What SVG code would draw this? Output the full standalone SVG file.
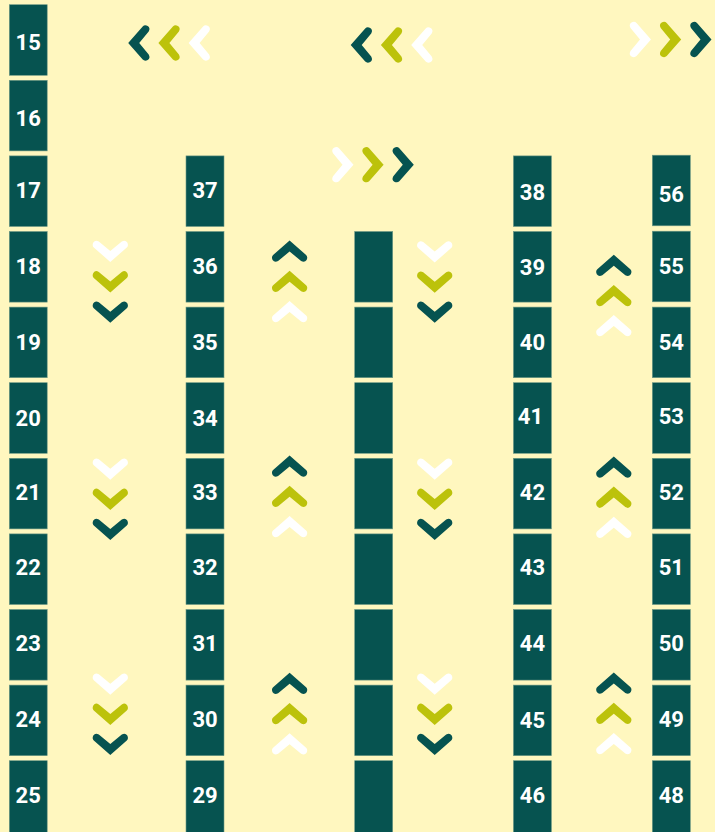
<svg xmlns="http://www.w3.org/2000/svg" xmlns:xlink="http://www.w3.org/1999/xlink" width="715" height="832" viewBox="0 0 715 832">
<style>
.bay{fill:#065350;stroke:#6f9a86;stroke-width:0.6}
.lbl{fill:#ffffff;font-family:Roboto,"Liberation Sans",sans-serif;font-weight:700;font-size:22px;text-anchor:middle}
.dk{fill:#065350}
.lm{fill:#bcc20b}
.wh{fill:#ffffff}
</style>
<defs>
<path id="chev" d="M0,11 L-16.5,-3.5 Q-18.5,-5.5 -17,-8.5 Q-15,-11.5 -11.5,-9.5 L0,0 L11.5,-9.5 Q15,-11.5 17,-8.5 Q18.5,-5.5 16.5,-3.5 Z"/>
</defs>
<rect x="0" y="0" width="715" height="832" fill="#fff7bf"/>
<g id="col1">
<g id="bay-15"><rect class="bay" x="9.3" y="4.7" width="37.9" height="70.6"/><text class="lbl" x="28.2" y="50">15</text></g>
<g id="bay-16"><rect class="bay" x="9.3" y="80.3" width="37.9" height="70.6"/><text class="lbl" x="28.2" y="126">16</text></g>
<g id="bay-17"><rect class="bay" x="9.3" y="155.9" width="37.9" height="70.6"/><text class="lbl" x="28.2" y="197.5">17</text></g>
<g id="bay-18"><rect class="bay" x="9.3" y="231.5" width="37.9" height="70.6"/><text class="lbl" x="28.2" y="274">18</text></g>
<g id="bay-19"><rect class="bay" x="9.3" y="307.1" width="37.9" height="70.6"/><text class="lbl" x="28.2" y="350">19</text></g>
<g id="bay-20"><rect class="bay" x="9.3" y="382.7" width="37.9" height="70.6"/><text class="lbl" x="28.2" y="426">20</text></g>
<g id="bay-21"><rect class="bay" x="9.3" y="458.3" width="37.9" height="70.6"/><text class="lbl" x="28.2" y="500">21</text></g>
<g id="bay-22"><rect class="bay" x="9.3" y="533.9" width="37.9" height="70.6"/><text class="lbl" x="28.2" y="575">22</text></g>
<g id="bay-23"><rect class="bay" x="9.3" y="609.5" width="37.9" height="70.6"/><text class="lbl" x="28.2" y="651">23</text></g>
<g id="bay-24"><rect class="bay" x="9.3" y="685.1" width="37.9" height="70.6"/><text class="lbl" x="28.2" y="727">24</text></g>
<g id="bay-25"><rect class="bay" x="9.3" y="760.7" width="37.9" height="72"/><text class="lbl" x="28.2" y="803">25</text></g>
</g>
<g id="col2">
<g id="bay-37"><rect class="bay" x="186" y="155.9" width="38" height="70.6"/><text class="lbl" x="205" y="197.5">37</text></g>
<g id="bay-36"><rect class="bay" x="186" y="231.5" width="38" height="70.6"/><text class="lbl" x="205" y="274">36</text></g>
<g id="bay-35"><rect class="bay" x="186" y="307.1" width="38" height="70.6"/><text class="lbl" x="205" y="350">35</text></g>
<g id="bay-34"><rect class="bay" x="186" y="382.7" width="38" height="70.6"/><text class="lbl" x="205" y="426">34</text></g>
<g id="bay-33"><rect class="bay" x="186" y="458.3" width="38" height="70.6"/><text class="lbl" x="205" y="500">33</text></g>
<g id="bay-32"><rect class="bay" x="186" y="533.9" width="38" height="70.6"/><text class="lbl" x="205" y="575">32</text></g>
<g id="bay-31"><rect class="bay" x="186" y="609.5" width="38" height="70.6"/><text class="lbl" x="205" y="651">31</text></g>
<g id="bay-30"><rect class="bay" x="186" y="685.1" width="38" height="70.6"/><text class="lbl" x="205" y="727">30</text></g>
<g id="bay-29"><rect class="bay" x="186" y="760.7" width="38" height="72"/><text class="lbl" x="205" y="803">29</text></g>
</g>
<g id="col3">
<g id="bay-c3-1"><rect class="bay" x="354.7" y="231.5" width="38" height="70.6"/></g>
<g id="bay-c3-2"><rect class="bay" x="354.7" y="307.1" width="38" height="70.6"/></g>
<g id="bay-c3-3"><rect class="bay" x="354.7" y="382.7" width="38" height="70.6"/></g>
<g id="bay-c3-4"><rect class="bay" x="354.7" y="458.3" width="38" height="70.6"/></g>
<g id="bay-c3-5"><rect class="bay" x="354.7" y="533.9" width="38" height="70.6"/></g>
<g id="bay-c3-6"><rect class="bay" x="354.7" y="609.5" width="38" height="70.6"/></g>
<g id="bay-c3-7"><rect class="bay" x="354.7" y="685.1" width="38" height="70.6"/></g>
<g id="bay-c3-8"><rect class="bay" x="354.7" y="760.7" width="38" height="72"/></g>
</g>
<g id="col4">
<g id="bay-38"><rect class="bay" x="513.4" y="155.9" width="38" height="70.6"/><text class="lbl" x="532.4" y="200">38</text></g>
<g id="bay-39"><rect class="bay" x="513.4" y="231.5" width="38" height="70.6"/><text class="lbl" x="532.4" y="275">39</text></g>
<g id="bay-40"><rect class="bay" x="513.4" y="307.1" width="38" height="70.6"/><text class="lbl" x="532.4" y="350">40</text></g>
<g id="bay-41"><rect class="bay" x="513.4" y="382.7" width="38" height="70.6"/><text class="lbl" x="530.4" y="424">41</text></g>
<g id="bay-42"><rect class="bay" x="513.4" y="458.3" width="38" height="70.6"/><text class="lbl" x="532.4" y="499.5">42</text></g>
<g id="bay-43"><rect class="bay" x="513.4" y="533.9" width="38" height="70.6"/><text class="lbl" x="532.4" y="575">43</text></g>
<g id="bay-44"><rect class="bay" x="513.4" y="609.5" width="38" height="70.6"/><text class="lbl" x="532.4" y="651">44</text></g>
<g id="bay-45"><rect class="bay" x="513.4" y="685.1" width="38" height="70.6"/><text class="lbl" x="532.4" y="727.5">45</text></g>
<g id="bay-46"><rect class="bay" x="513.4" y="760.7" width="38" height="72"/><text class="lbl" x="532.4" y="803">46</text></g>
</g>
<g id="col5">
<g id="bay-56"><rect class="bay" x="652.3" y="155.2" width="38" height="70.6"/><text class="lbl" x="671.3" y="202">56</text></g>
<g id="bay-55"><rect class="bay" x="652.3" y="231.2" width="38" height="70.6"/><text class="lbl" x="671.3" y="274">55</text></g>
<g id="bay-54"><rect class="bay" x="652.3" y="307.1" width="38" height="70.6"/><text class="lbl" x="671.3" y="349.5">54</text></g>
<g id="bay-53"><rect class="bay" x="652.3" y="382.7" width="38" height="70.6"/><text class="lbl" x="671.3" y="424">53</text></g>
<g id="bay-52"><rect class="bay" x="652.3" y="458.3" width="38" height="70.6"/><text class="lbl" x="671.3" y="499.5">52</text></g>
<g id="bay-51"><rect class="bay" x="652.3" y="533.9" width="38" height="70.6"/><text class="lbl" x="671.3" y="575">51</text></g>
<g id="bay-50"><rect class="bay" x="652.3" y="609.5" width="38" height="70.6"/><text class="lbl" x="671.3" y="651">50</text></g>
<g id="bay-49"><rect class="bay" x="652.3" y="685.1" width="38" height="70.6"/><text class="lbl" x="671.3" y="727">49</text></g>
<g id="bay-48"><rect class="bay" x="652.3" y="760.7" width="38" height="72"/><text class="lbl" x="671.3" y="803">48</text></g>
</g>
<g id="connectors">
<g id="flow-top-left">
<use xlink:href="#chev" class="dk" transform="translate(139.2,43) rotate(90)"/>
<use xlink:href="#chev" class="lm" transform="translate(169.4,43) rotate(90)"/>
<use xlink:href="#chev" class="wh" transform="translate(199.6,43) rotate(90)"/>
</g>
<g id="flow-top-mid">
<use xlink:href="#chev" class="dk" transform="translate(361.7,45) rotate(90)"/>
<use xlink:href="#chev" class="lm" transform="translate(391.9,45) rotate(90)"/>
<use xlink:href="#chev" class="wh" transform="translate(422.2,45) rotate(90)"/>
</g>
<g id="flow-top-right">
<use xlink:href="#chev" class="wh" transform="translate(640,39.5) rotate(-90)"/>
<use xlink:href="#chev" class="lm" transform="translate(670.2,39.5) rotate(-90)"/>
<use xlink:href="#chev" class="dk" transform="translate(700.5,39.5) rotate(-90)"/>
</g>
<g id="flow-mid-right">
<use xlink:href="#chev" class="wh" transform="translate(342.5,164.7) rotate(-90)"/>
<use xlink:href="#chev" class="lm" transform="translate(372.6,164.7) rotate(-90)"/>
<use xlink:href="#chev" class="dk" transform="translate(402.8,164.7) rotate(-90)"/>
</g>
<g id="flow-down-a">
<use xlink:href="#chev" class="wh" transform="translate(110.3,251)"/>
<use xlink:href="#chev" class="lm" transform="translate(110.3,281.4)"/>
<use xlink:href="#chev" class="dk" transform="translate(110.3,311.8)"/>
<use xlink:href="#chev" class="wh" transform="translate(110.3,468.8)"/>
<use xlink:href="#chev" class="lm" transform="translate(110.3,498.9)"/>
<use xlink:href="#chev" class="dk" transform="translate(110.3,529)"/>
<use xlink:href="#chev" class="wh" transform="translate(110.3,683.8)"/>
<use xlink:href="#chev" class="lm" transform="translate(110.3,713.9)"/>
<use xlink:href="#chev" class="dk" transform="translate(110.3,744)"/>
</g>
<g id="flow-up-a">
<use xlink:href="#chev" class="dk" transform="translate(289.6,251.5) rotate(180)"/>
<use xlink:href="#chev" class="lm" transform="translate(289.6,281.7) rotate(180)"/>
<use xlink:href="#chev" class="wh" transform="translate(289.6,311.9) rotate(180)"/>
<use xlink:href="#chev" class="dk" transform="translate(289.6,466.5) rotate(180)"/>
<use xlink:href="#chev" class="lm" transform="translate(289.6,496.7) rotate(180)"/>
<use xlink:href="#chev" class="wh" transform="translate(289.6,526.9) rotate(180)"/>
<use xlink:href="#chev" class="dk" transform="translate(289.6,683.8) rotate(180)"/>
<use xlink:href="#chev" class="lm" transform="translate(289.6,714) rotate(180)"/>
<use xlink:href="#chev" class="wh" transform="translate(289.6,744.2) rotate(180)"/>
</g>
<g id="flow-down-b">
<use xlink:href="#chev" class="wh" transform="translate(434.7,251.5)"/>
<use xlink:href="#chev" class="lm" transform="translate(434.7,281.7)"/>
<use xlink:href="#chev" class="dk" transform="translate(434.7,311.8)"/>
<use xlink:href="#chev" class="wh" transform="translate(434.7,468.8)"/>
<use xlink:href="#chev" class="lm" transform="translate(434.7,498.9)"/>
<use xlink:href="#chev" class="dk" transform="translate(434.7,529)"/>
<use xlink:href="#chev" class="wh" transform="translate(434.7,683.8)"/>
<use xlink:href="#chev" class="lm" transform="translate(434.7,713.9)"/>
<use xlink:href="#chev" class="dk" transform="translate(434.7,744)"/>
</g>
<g id="flow-up-b">
<use xlink:href="#chev" class="dk" transform="translate(613.8,265.8) rotate(180)"/>
<use xlink:href="#chev" class="lm" transform="translate(613.8,295.9) rotate(180)"/>
<use xlink:href="#chev" class="wh" transform="translate(613.8,326) rotate(180)"/>
<use xlink:href="#chev" class="dk" transform="translate(613.8,467.5) rotate(180)"/>
<use xlink:href="#chev" class="lm" transform="translate(613.8,497.6) rotate(180)"/>
<use xlink:href="#chev" class="wh" transform="translate(613.8,527.8) rotate(180)"/>
<use xlink:href="#chev" class="dk" transform="translate(613.8,683.5) rotate(180)"/>
<use xlink:href="#chev" class="lm" transform="translate(613.8,713.7) rotate(180)"/>
<use xlink:href="#chev" class="wh" transform="translate(613.8,743.9) rotate(180)"/>
</g>
</g>
</svg>
